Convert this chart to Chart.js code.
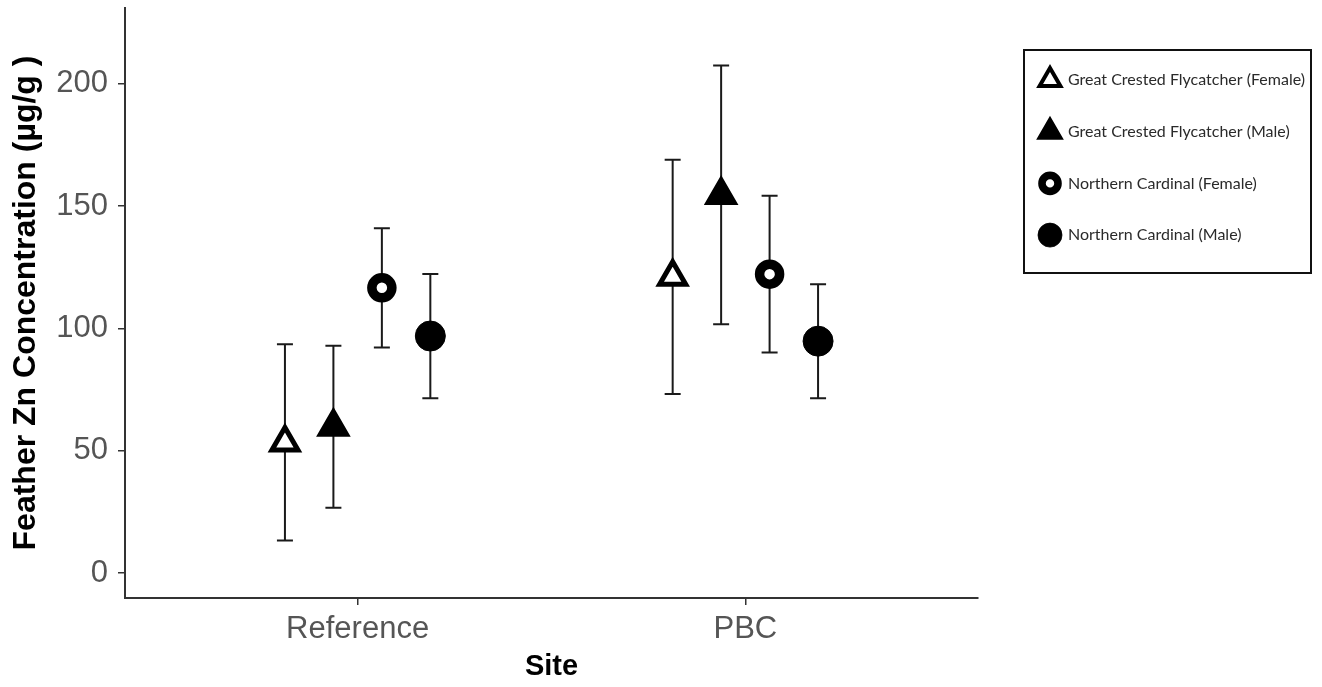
<!DOCTYPE html>
<html>
<head>
<meta charset="utf-8">
<script src="https://cdn.jsdelivr.net/npm/chart.js@4.4.1/dist/chart.umd.min.js"></script>
<style>
  html, body { margin: 0; padding: 0; background: #fff; }
  #wrap { position: relative; width: 1322px; height: 687px; }
</style>
</head>
<body>
<div id="wrap"><canvas id="myChart"></canvas></div>
<script>
var sites = ["Reference", "PBC"];
var groups = [
  "Great Crested Flycatcher (Female)",
  "Great Crested Flycatcher (Male)",
  "Northern Cardinal (Female)",
  "Northern Cardinal (Male)"
];

// mean feather Zn (ug/g) at each site
var gcfFemale = [53.4, 121.1];
var gcfMale = [59.8, 154.6];
var ncFemale = [116.6, 122.2];
var ncMale = [96.9, 94.8];

// +/- error for each mean
var gcfFemaleErr = [40.1, 47.9];
var gcfMaleErr = [33.1, 52.9];
var ncFemaleErr = [24.4, 32.0];
var ncMaleErr = [25.4, 23.3];

var yTicks = [0, 50, 100, 150, 200];

var means = [gcfFemale, gcfMale, ncFemale, ncMale];
var errs = [gcfFemaleErr, gcfMaleErr, ncFemaleErr, ncMaleErr];

// marker look per group
var markers = [
  { style: "triangle", fill: "#fff", radius: 15, border: 5 },
  { style: "triangle", fill: "#000", radius: 18, border: 2 },
  { style: "circle", fill: "#fff", radius: 10, border: 9.5 },
  { style: "circle", fill: "#000", radius: 15, border: 1 }
];

// dodge the four groups side by side around each site
var dodge = 0.5;
var step = dodge / groups.length;

var datasets = groups.map(function (g, j) {
  var off = (j - (groups.length - 1) / 2) * step;
  var m = markers[j];
  return {
    label: g,
    data: sites.map(function (s, i) { return { x: i + 1 + off, y: means[j][i] }; }),
    err: errs[j],
    showLine: false,
    pointStyle: m.style,
    pointRadius: m.radius,
    pointBorderWidth: m.border,
    pointBackgroundColor: m.fill,
    pointBorderColor: "#000"
  };
});

var errorBars = {
  id: "errorBars",
  beforeDatasetsDraw: function (chart) {
    var ctx = chart.ctx;
    var y = chart.scales.y;
    ctx.save();
    ctx.strokeStyle = "#1a1a1a";
    ctx.lineWidth = 2;
    chart.data.datasets.forEach(function (ds, i) {
      chart.getDatasetMeta(i).data.forEach(function (pt, k) {
        var mean = ds.data[k].y, e = ds.err[k];
        var top = y.getPixelForValue(mean + e);
        var bot = y.getPixelForValue(mean - e);
        ctx.beginPath();
        ctx.moveTo(pt.x, top); ctx.lineTo(pt.x, bot);
        ctx.moveTo(pt.x - 8, top); ctx.lineTo(pt.x + 8, top);
        ctx.moveTo(pt.x - 8, bot); ctx.lineTo(pt.x + 8, bot);
        ctx.stroke();
      });
    });
    ctx.restore();
  }
};

// boxed legend on the right
var boxLegend = {
  id: "boxLegend",
  afterDraw: function (chart) {
    var ctx = chart.ctx;
    ctx.save();
    ctx.lineWidth = 2;
    ctx.strokeStyle = "#111";
    ctx.strokeRect(1024, 50, 287, 223);
    ctx.font = "16px Lato";
    ctx.textBaseline = "middle";
    chart.data.datasets.forEach(function (ds, i) {
      var yy = 80 + i * 51.7;
      ctx.fillStyle = ds.pointBackgroundColor;
      ctx.strokeStyle = ds.pointBorderColor;
      ctx.lineWidth = ds.pointBorderWidth * 0.8;
      Chart.helpers.drawPoint(ctx, {
        pointStyle: ds.pointStyle,
        radius: ds.pointRadius * 0.8,
        borderWidth: ds.pointBorderWidth * 0.8,
        rotation: 0
      }, 1050, yy);
      ctx.fillStyle = "#2a2a2a";
      ctx.fillText(ds.label, 1068, yy);
    });
    ctx.restore();
  }
};

// no extra room for end tick labels
function noEdgePadding(s) {
  s.paddingTop = 0;
  s.paddingBottom = 0;
  s.paddingLeft = 0;
  s.paddingRight = 0;
}

var ctx = document.getElementById("myChart");
var myChart = new Chart(ctx, {
  type: "scatter",
  data: { datasets: datasets },
  plugins: [errorBars, boxLegend],
  options: {
    responsive: true,
    maintainAspectRatio: false,
    animation: false,
    events: [],
    layout: { autoPadding: false, padding: { left: 0, top: 8, right: 344, bottom: 0 } },
    plugins: {
      legend: { display: false },
      tooltip: { enabled: false }
    },
    scales: {
      x: {
        type: "linear",
        min: 0.4,
        max: 2.6,
        afterBuildTicks: function (s) {
          s.ticks = sites.map(function (n, i) { return { value: i + 1 }; });
        },
        afterFit: function (s) { s.height = 89; noEdgePadding(s); },
        ticks: {
          callback: function (v) { return sites[Math.round(v) - 1]; },
          font: { family: "Liberation Sans", size: 31 },
          color: "#555",
          padding: 6,
          maxRotation: 0
        },
        grid: { drawOnChartArea: false, tickLength: 7, color: "#333", lineWidth: 1.5 },
        border: { color: "#333", width: 2 },
        title: {
          display: true,
          text: "Site",
          font: { family: "Liberation Sans", size: 29, weight: "bold" },
          color: "#000",
          padding: { top: 0, bottom: 3 }
        }
      },
      y: {
        min: -10.2,
        max: 231,
        afterBuildTicks: function (s) {
          s.ticks = yTicks.map(function (v) { return { value: v }; });
        },
        afterFit: function (s) { s.width = 125; noEdgePadding(s); },
        ticks: {
          font: { family: "Liberation Sans", size: 31 },
          color: "#555",
          padding: 10
        },
        grid: { drawOnChartArea: false, tickLength: 7, color: "#333", lineWidth: 1.5 },
        border: { color: "#333", width: 2 },
        title: {
          display: true,
          text: "Feather Zn Concentration (\u00b5g/g )",
          font: { family: "Liberation Sans", size: 32, weight: "bold" },
          color: "#000",
          padding: { top: 7, bottom: 0 }
        }
      }
    }
  }
});
</script>
</body>
</html>
